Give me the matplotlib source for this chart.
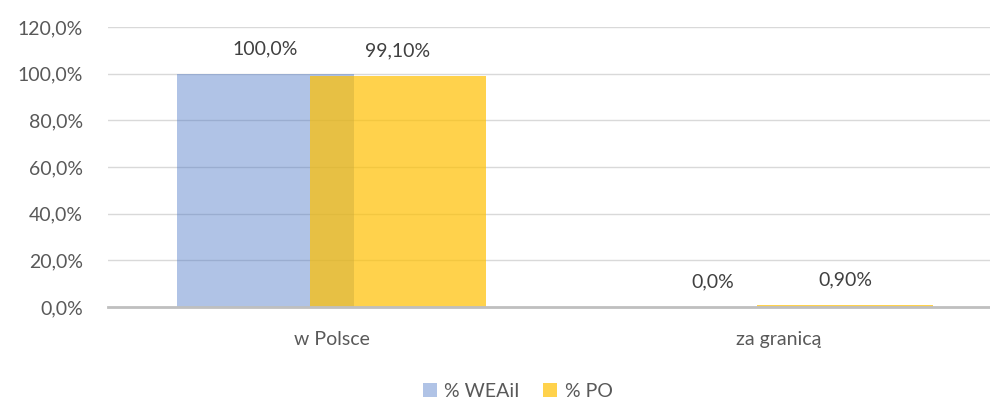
import matplotlib.pyplot as plt
import numpy as np

plt.rcParams['font.family'] = ['Lato', 'DejaVu Sans']

categories = ['w Polsce', 'za granicą']
weaii = [1.000, 0.000]
po = [0.991, 0.009]
weaii_labels = ['100,0%', '0,0%']
po_labels = ['99,10%', '0,90%']
yticks = [0, 0.2, 0.4, 0.6, 0.8, 1.0, 1.2]
ytick_labels = ['0,0%', '20,0%', '40,0%', '60,0%', '80,0%', '100,0%', '120,0%']

fig = plt.figure(figsize=(9.9, 4), dpi=100)
ax = fig.add_axes([108 / 990, 93 / 400, 1 - 108 / 990, 0.7])

x = np.arange(len(categories))
w = 0.394
off = 0.148
txt = '#595959'
fs = 14

ax.bar(x - off, weaii, w, color='#4472C4', alpha=0.42, label='% WEAiI', zorder=2)
ax.bar(x + off, po, w, color='#FFC000', alpha=0.70, label='% PO', zorder=3)

for xi, v, s in zip(x - off, weaii, weaii_labels):
    ax.annotate(s, (xi, v), xytext=(0, 18), textcoords='offset points',
                ha='center', va='center', fontsize=fs, color='#404040')
for xi, v, s in zip(x + off, po, po_labels):
    ax.annotate(s, (xi, v), xytext=(0, 18), textcoords='offset points',
                ha='center', va='center', fontsize=fs, color='#404040')

ax.set_xlim(-0.5, 1.472)
ax.set_ylim(0, 1.2)
ax.set_yticks(yticks)
ax.set_yticklabels(ytick_labels, fontsize=fs, color=txt)
ax.set_xticks(x)
ax.set_xticklabels(categories, fontsize=fs, color=txt)
ax.tick_params(axis='both', length=0)
ax.tick_params(axis='y', pad=18)
ax.tick_params(axis='x', pad=17)

ax.grid(axis='y', color='#D9D9D9', linewidth=1, zorder=0)
for sp in ['top', 'right', 'left']:
    ax.spines[sp].set_visible(False)
ax.spines['bottom'].set_color('#BFBFBF')
ax.spines['bottom'].set_linewidth(2)
ax.spines['bottom'].set_zorder(4)

leg = fig.legend(loc='center', bbox_to_anchor=(0.523, 0.022), ncol=2, frameon=False,
                 fontsize=fs, handlelength=0.7, handleheight=0.7,
                 handletextpad=0.4, columnspacing=1.2)
for t in leg.get_texts():
    t.set_color(txt)

fig.savefig('out.png', dpi=100)
